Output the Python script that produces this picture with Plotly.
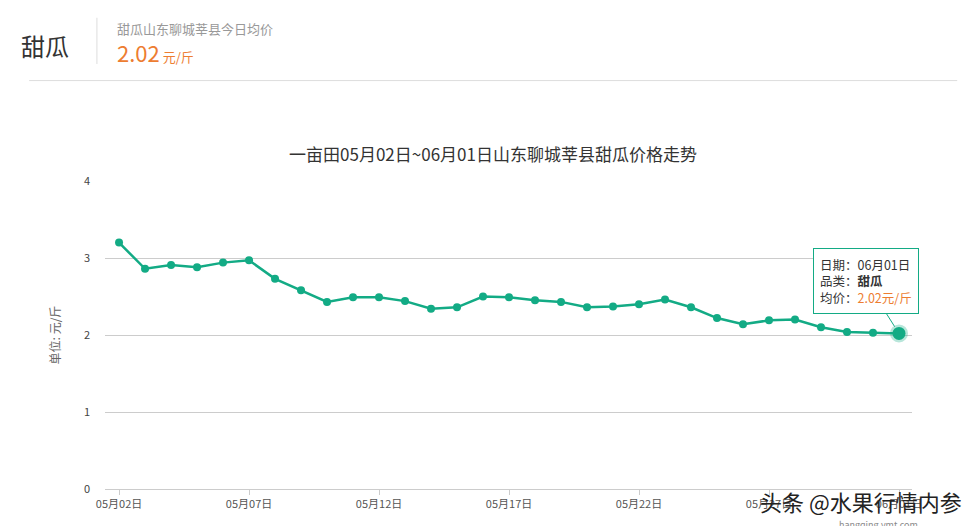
import plotly.graph_objects as go

# 日期与均价 (元/斤)
fechas = [f"05月{d:02d}日" for d in range(2, 32)] + ["06月01日"]
precios = [3.20, 2.86, 2.91, 2.88, 2.94, 2.97, 2.73, 2.58, 2.43, 2.49,
           2.49, 2.44, 2.34, 2.36, 2.50, 2.49, 2.45, 2.43, 2.36, 2.37,
           2.40, 2.46, 2.36, 2.22, 2.14, 2.19, 2.20, 2.10, 2.04, 2.03, 2.02]
ticks_x = ["05月02日", "05月07日", "05月12日", "05月17日", "05月22日", "05月27日", "06月01日"]

verde = "#13ab85"
fuente = "Noto Sans CJK SC"

fig = go.Figure()
fig.add_trace(go.Scatter(
    x=list(range(len(fechas))), y=precios, mode="lines+markers",
    line=dict(color=verde, width=2.5),
    marker=dict(color=verde, size=8),
    showlegend=False
))
# punto resaltado
fig.add_trace(go.Scatter(
    x=[len(fechas) - 1], y=[precios[-1]], mode="markers",
    marker=dict(color=verde, size=13, line=dict(color="rgba(19,171,133,0.3)", width=5)),
    showlegend=False
))

idx_ticks = [fechas.index(t) for t in ticks_x]

fig.update_layout(
    width=970, height=526,
    margin=dict(l=97, r=66, t=173, b=45),
    paper_bgcolor="white", plot_bgcolor="white",
    font=dict(family=fuente, color="#555"),
    xaxis=dict(range=[-0.54, 30.5], tickvals=idx_ticks, ticktext=ticks_x,
               showgrid=False, showline=True, linecolor="#ccc", ticks="outside",
               tickcolor="#ccc", ticklen=5, tickfont=dict(size=11, color="#555"),
               zeroline=False),
    yaxis=dict(range=[0, 4], tickvals=[0, 1, 2, 3, 4], showgrid=True,
               gridcolor="#ccc", zeroline=False, tickfont=dict(size=11, color="#444"),
               ticklabelstandoff=14,
               title=dict(text="单位: 元/斤", font=dict(size=12, color="#666"), standoff=20)),
    title=dict(text="一亩田05月02日~06月01日山东聊城莘县甜瓜价格走势", x=0.5, xanchor="center",
               y=0.72, yanchor="middle", font=dict(size=17, color="#333")),
    shapes=[
        dict(type="line", xref="paper", yref="paper", x0=-0.094, x1=1.056, y0=1.326, y1=1.326,
             line=dict(color="#ddd", width=1)),
        dict(type="line", xref="paper", yref="paper", x0=-0.01, x1=-0.01, y0=1.38, y1=1.53,
             line=dict(color="#ddd", width=1)),
    ],
    annotations=[
        dict(text="甜瓜", xref="paper", yref="paper", x=-0.106, y=1.44, xanchor="left",
             yanchor="middle", showarrow=False, font=dict(size=24, color="#333")),
        dict(text="甜瓜山东聊城莘县今日均价", xref="paper", yref="paper", x=0.013, y=1.494,
             xanchor="left", yanchor="middle", showarrow=False, font=dict(size=13, color="#999")),
        dict(text="<span style='font-size:22px'>2.02</span> 元/斤", xref="paper", yref="paper",
             x=0.013, y=1.42, xanchor="left", yanchor="middle", showarrow=False,
             font=dict(size=13, color="#ed7d31")),
        dict(text="日期：06月01日<br>品类：<b>甜瓜</b><br>均价：<span style='color:#ed7d31'>2.02元/斤</span>",
             x=30, y=precios[-1], xref="x", yref="y", ax=-33, ay=-52,
             showarrow=True, arrowcolor=verde, arrowwidth=1, arrowhead=0, standoff=8,
             align="left", bgcolor="white", bordercolor=verde, borderwidth=1, borderpad=6,
             font=dict(size=12.5, color="#333")),
        dict(text="头条 @水果行情内参", xref="paper", yref="paper", x=1.065, y=-0.04,
             xanchor="right", yanchor="middle", showarrow=False,
             font=dict(size=22, color="#222")),
        dict(text="hangqing.ymt.com", xref="paper", yref="paper", x=1.01, y=-0.115,
             xanchor="right", yanchor="middle", showarrow=False,
             font=dict(size=9, color="#888")),
    ],
)

fig.write_html("out.html")
